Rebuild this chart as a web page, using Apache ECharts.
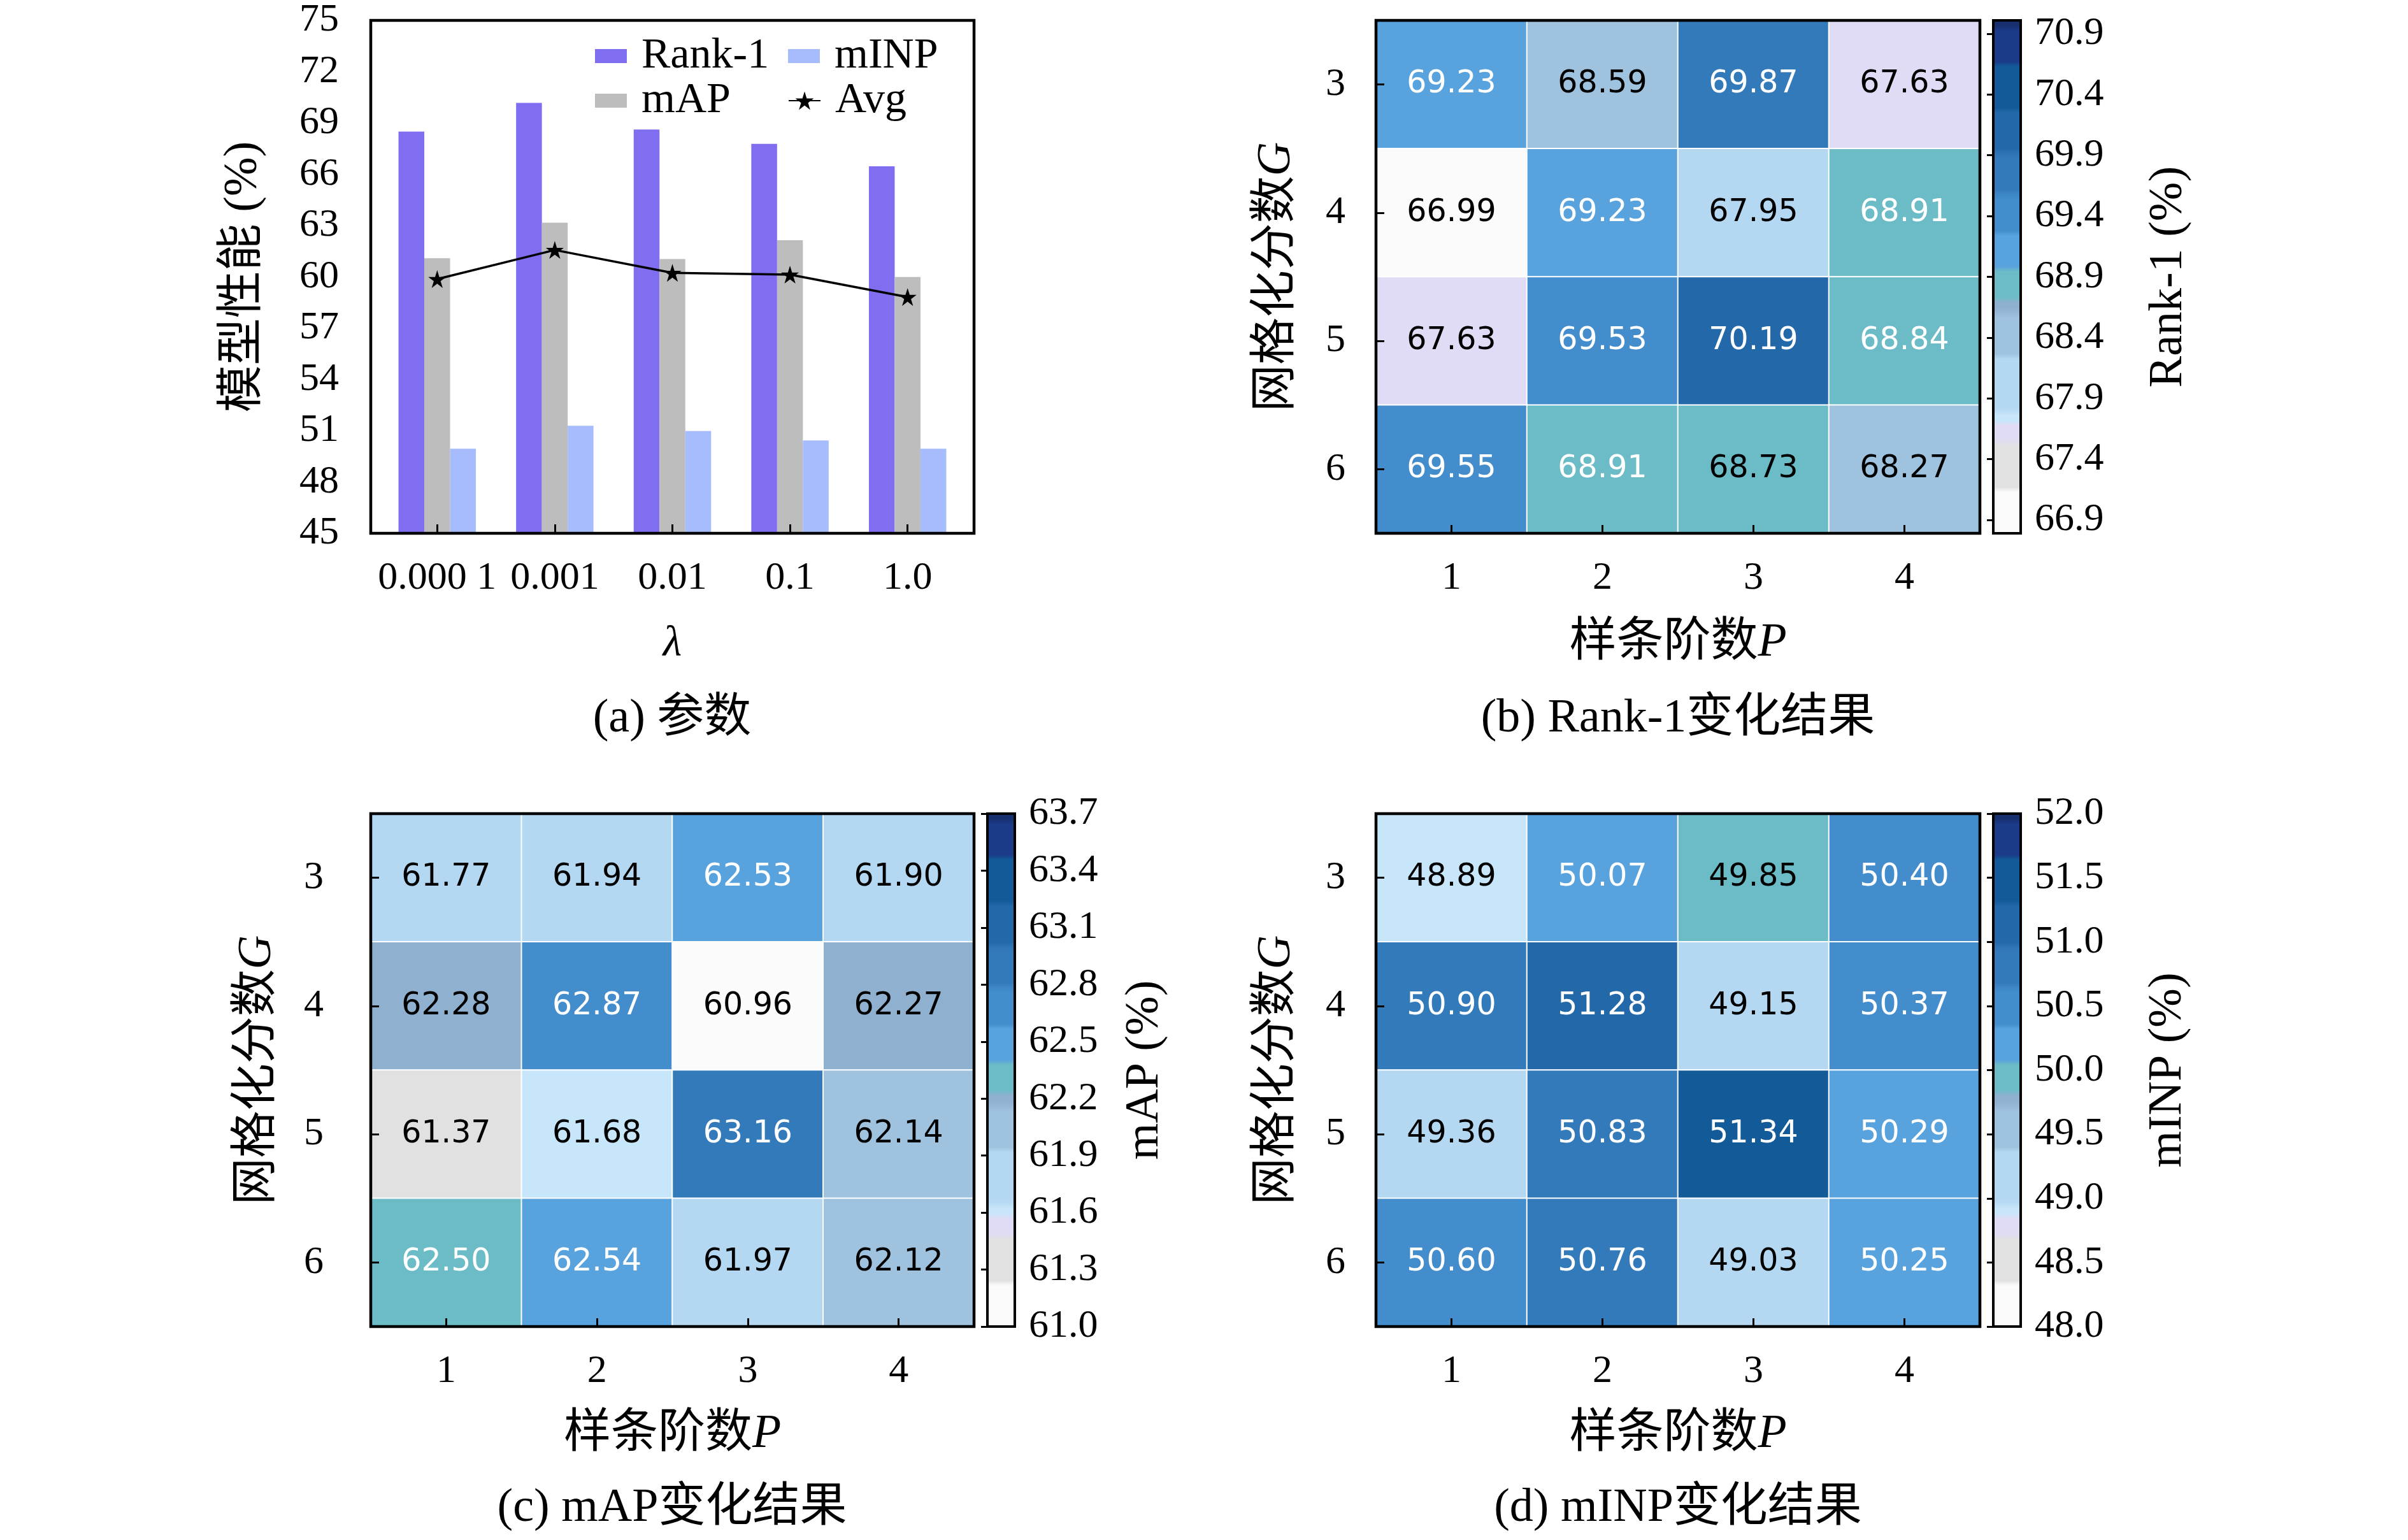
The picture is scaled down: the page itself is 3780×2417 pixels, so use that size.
<!DOCTYPE html>
<html>
<head>
<meta charset="utf-8">
<script src="https://cdn.jsdelivr.net/npm/echarts/dist/echarts.min.js"></script>
<style>html,body{margin:0;padding:0;background:#fff}#c{width:3780px;height:2417px}</style>
</head>
<body>
<div id="c"></div>
<script>
// ---------------- data ----------------
const lambdaLabels = ['0.000 1', '0.001', '0.01', '0.1', '1.0'];
const rank1Bars = [68.50, 70.17, 68.62, 67.78, 66.47];
const mapBars = [61.09, 63.17, 61.04, 62.14, 59.99];
const minpBars = [49.95, 51.29, 50.98, 50.43, 49.95];
const avgLine = [59.87, 61.57, 60.23, 60.13, 58.82];

const splineOrders = ['1', '2', '3', '4'];      // P
const gridCounts = ['3', '4', '5', '6'];        // G
const rank1Grid = [
  [69.23, 68.59, 69.87, 67.63],
  [66.99, 69.23, 67.95, 68.91],
  [67.63, 69.53, 70.19, 68.84],
  [69.55, 68.91, 68.73, 68.27]
];
const mapGrid = [
  [61.77, 61.94, 62.53, 61.90],
  [62.28, 62.87, 60.96, 62.27],
  [61.37, 61.68, 63.16, 62.14],
  [62.50, 62.54, 61.97, 62.12]
];
const minpGrid = [
  [48.89, 50.07, 49.85, 50.40],
  [50.90, 51.28, 49.15, 50.37],
  [49.36, 50.83, 51.34, 50.29],
  [50.60, 50.76, 49.03, 50.25]
];
const rank1CbTicks = [66.9, 67.4, 67.9, 68.4, 68.9, 69.4, 69.9, 70.4, 70.9];
const mapCbTicks = [61.0, 61.3, 61.6, 61.9, 62.2, 62.5, 62.8, 63.1, 63.4, 63.7];
const minpCbTicks = [48.0, 48.5, 49.0, 49.5, 50.0, 50.5, 51.0, 51.5, 52.0];
const rank1CbRange = [66.79, 71.01];
const mapCbRange = [61.0, 63.7];
const mapColorRange = [60.98, 63.97];
const minpCbRange = [48.0, 52.0];

// ---------------- style ----------------
const SERIF = '"Liberation Serif", "DejaVu Serif", "Noto Sans CJK SC", serif';
const MIX = '"Liberation Serif", "Noto Sans CJK SC", serif';
const FS = 62, NFS = 74;
const cmapSegments = [
  [0.085, '#fbfbfb'], [0.18, '#e1e1e1'], [0.218, '#e0dcf6'], [0.24, '#c8e6fa'], [0.345, '#b4d7f2'],
  [0.43, '#9fc2df'], [0.456, '#8fb0cf'], [0.512, '#6cbcc8'],
  [0.582, '#58a2dd'], [0.661, '#438dcc'], [0.74, '#337abb'], [0.829, '#2368a8'],
  [0.918, '#125a98'], [0.98, '#1b3a88'], [1.001, '#172f6e']
];
function buildColors(n) {
  const out = [];
  for (let i = 0; i < n; i++) {
    const f = i / (n - 1);
    for (const s of cmapSegments) { if (f < s[0]) { out.push(s[1]); break; } }
  }
  return out;
}
const cmap = buildColors(400);

function heatData(grid, range) {
  const d = [];
  grid.forEach((row, r) => row.forEach((v, c) => {
    const f = (v - range[0]) / (range[1] - range[0]);
    d.push({ value: [c, r, v], label: { color: f >= 0.475 ? '#ffffff' : '#000000' } });
  }));
  return d;
}

const P = {
  a: { left: 582, top: 32, width: 947, height: 805 },
  b: { left: 2160, top: 32, width: 948, height: 805 },
  bc: { left: 3129, top: 32, width: 43, height: 805 },
  c: { left: 582, top: 1277, width: 947, height: 805 },
  cc: { left: 1550, top: 1277, width: 43, height: 805 },
  d: { left: 2160, top: 1277, width: 948, height: 805 },
  dc: { left: 3129, top: 1277, width: 43, height: 805 }
};

const border = { show: true, borderColor: '#000', borderWidth: 4.5, backgroundColor: 'transparent', z: 5 };
const grids = [
  Object.assign({}, P.a, border),
  Object.assign({}, P.b, border),
  Object.assign({}, P.bc, border, { z: 10, borderWidth: 4 }),
  Object.assign({}, P.c, border),
  Object.assign({}, P.cc, border, { z: 10, borderWidth: 4 }),
  Object.assign({}, P.d, border),
  Object.assign({}, P.dc, border, { z: 10, borderWidth: 4 })
];

const labelStyle = { color: '#000', fontFamily: SERIF, fontSize: FS };
const nameStyle = {
  color: '#000', fontFamily: MIX, fontSize: NFS,
  rich: { i: { fontStyle: 'italic', fontFamily: SERIF, fontSize: NFS, color: '#000' },
          t: { fontFamily: MIX, fontSize: NFS, color: '#000' } }
};

function heatX(gi, gap) {
  return {
    type: 'category', gridIndex: gi, data: splineOrders, z: 6,
    axisLine: { show: false },
    axisTick: { show: true, inside: true, alignWithLabel: true, length: 13, lineStyle: { color: '#000', width: 3 } },
    axisLabel: Object.assign({ margin: 40 }, labelStyle),
    splitLine: { show: false },
    name: '{t|样条阶数}{i|P}', nameLocation: 'middle', nameGap: gap, nameTextStyle: nameStyle
  };
}
function heatY(gi, margin, gap) {
  return {
    type: 'category', gridIndex: gi, data: gridCounts, inverse: true, z: 6,
    axisLine: { show: false },
    axisTick: { show: true, inside: true, alignWithLabel: true, length: 13, lineStyle: { color: '#000', width: 3 } },
    axisLabel: Object.assign({ margin: margin }, labelStyle),
    splitLine: { show: false },
    name: '{t|网格化分数}{i|G}', nameLocation: 'middle', nameGap: gap, nameTextStyle: nameStyle
  };
}
function cbX(gi) {
  return { type: 'value', gridIndex: gi, show: false, min: 0, max: 1 };
}
function cbY(gi, range, ticks, name, gap) {
  return {
    type: 'value', gridIndex: gi, position: 'right', min: range[0], max: range[1], z: 11,
    axisLine: { show: false },
    axisTick: { show: true, inside: true, length: 10, customValues: ticks, lineStyle: { color: '#000', width: 3 } },
    axisLabel: Object.assign({ margin: 22, customValues: ticks, formatter: v => v.toFixed(1) }, labelStyle),
    splitLine: { show: false },
    name: name, nameLocation: 'middle', nameRotate: 90, nameGap: gap,
    nameTextStyle: { color: '#000', fontFamily: SERIF, fontSize: 74 }
  };
}

const xAxes = [
  {
    type: 'value', gridIndex: 0, min: -0.565, max: 4.565, z: 6,
    axisLine: { show: false },
    axisTick: { show: true, inside: true, length: 14, customValues: [0, 1, 2, 3, 4], lineStyle: { color: '#000', width: 3 } },
    axisLabel: Object.assign({ margin: 40, customValues: [0, 1, 2, 3, 4], formatter: v => lambdaLabels[Math.round(v)] }, labelStyle),
    splitLine: { show: false },
    name: 'λ', nameLocation: 'middle', nameGap: 140,
    nameTextStyle: { color: '#000', fontFamily: SERIF, fontSize: 68, fontStyle: 'italic' }
  },
  heatX(1, 136), cbX(2), heatX(3, 133), cbX(4), heatX(5, 133), cbX(6)
];
const yAxes = [
  {
    type: 'value', gridIndex: 0, min: 45, max: 75, interval: 3,
    axisLine: { show: false }, axisTick: { show: false },
    axisLabel: Object.assign({ margin: 50 }, labelStyle),
    splitLine: { show: false },
    name: '模型性能 (%)', nameLocation: 'middle', nameGap: 162,
    nameTextStyle: { color: '#000', fontFamily: MIX, fontSize: NFS }
  },
  heatY(1, 48, 118),
  cbY(2, rank1CbRange, rank1CbTicks, 'Rank-1 (%)', 196),
  heatY(3, 74, 140),
  cbY(4, mapCbRange, mapCbTicks, 'mAP (%)', 168),
  heatY(5, 48, 118),
  cbY(6, minpCbRange, minpCbTicks, 'mINP (%)', 195)
];

const xy = arr => arr.map((v, i) => [i, v]);
const star = 'path://M50,0 L61.2,34.5 L97.6,34.5 L68.2,55.9 L79.4,90.5 L50,69.1 L20.6,90.5 L31.8,55.9 L2.4,34.5 L38.8,34.5 Z';
const heatLabel = { show: true, fontFamily: '"DejaVu Sans", sans-serif', fontSize: 49, formatter: p => p.value[2].toFixed(2) };
const heatItem = { borderColor: '#ffffff', borderWidth: 2 };

const series = [
  { name: 'Rank-1', type: 'bar', xAxisIndex: 0, yAxisIndex: 0, data: xy(rank1Bars), barWidth: 40.5, barGap: '0%', itemStyle: { color: '#7f6ff0' } },
  { name: 'mAP', type: 'bar', xAxisIndex: 0, yAxisIndex: 0, data: xy(mapBars), barWidth: 40.5, barGap: '0%', itemStyle: { color: '#bdbdbd' } },
  { name: 'mINP', type: 'bar', xAxisIndex: 0, yAxisIndex: 0, data: xy(minpBars), barWidth: 40.5, barGap: '0%', itemStyle: { color: '#a6bcfc' } },
  { name: 'Avg', type: 'line', xAxisIndex: 0, yAxisIndex: 0, data: xy(avgLine), z: 8,
    symbol: star, symbolSize: 28, lineStyle: { color: '#000', width: 3.5 }, itemStyle: { color: '#000' } },
  { type: 'heatmap', xAxisIndex: 1, yAxisIndex: 1, data: heatData(rank1Grid, rank1CbRange), label: heatLabel, itemStyle: heatItem },
  { type: 'heatmap', xAxisIndex: 3, yAxisIndex: 3, data: heatData(mapGrid, mapColorRange), label: heatLabel, itemStyle: heatItem },
  { type: 'heatmap', xAxisIndex: 5, yAxisIndex: 5, data: heatData(minpGrid, minpCbRange), label: heatLabel, itemStyle: heatItem }
];

function vm(si, range, box) {
  return {
    type: 'continuous', seriesIndex: si, dimension: 2, min: range[0], max: range[1],
    calculable: false, realtime: false, hoverLink: false, text: null, showLabel: false,
    left: box.left, top: box.top, itemWidth: box.width, itemHeight: box.height, padding: 0,
    inRange: { color: cmap }
  };
}

const legendBase = {
  orient: 'vertical', padding: 0, itemGap: 0, itemWidth: 50, itemHeight: 22, selectedMode: false,
  textStyle: { color: '#000', fontFamily: SERIF, fontSize: 68, lineHeight: 70, padding: [0, 0, 0, 18] }
};

const caption = (text, x, y) => ({
  type: 'text', x: x, y: y,
  style: { text: text, fill: '#000', font: NFS + 'px ' + MIX, textAlign: 'center', textVerticalAlign: 'middle' }
});

const option = {
  backgroundColor: '#ffffff',
  animation: false,
  grid: grids,
  xAxis: xAxes,
  yAxis: yAxes,
  legend: [
    Object.assign({}, legendBase, { left: 934, top: 53, data: [{ name: 'Rank-1', icon: 'rect' }, { name: 'mAP', icon: 'rect' }] }),
    Object.assign({}, legendBase, { left: 1237, top: 53, data: [{ name: 'mINP', icon: 'rect' }] }),
    Object.assign({}, legendBase, { left: 1237, top: 123, itemHeight: 36, data: [{ name: 'Avg' }] })
  ],
  visualMap: [vm(4, rank1CbRange, P.bc), vm(5, mapColorRange, P.cc), vm(6, minpCbRange, P.dc)],
  series: series,
  graphic: [
    caption('(a) 参数', 1055, 1129),
    caption('(b) Rank-1变化结果', 2634, 1129),
    caption('(c) mAP变化结果', 1055, 2368),
    caption('(d) mINP变化结果', 2634, 2368)
  ]
};

const chart = echarts.init(document.getElementById('c'), null, { renderer: 'canvas' });
chart.setOption(option);
</script>
</body>
</html>
